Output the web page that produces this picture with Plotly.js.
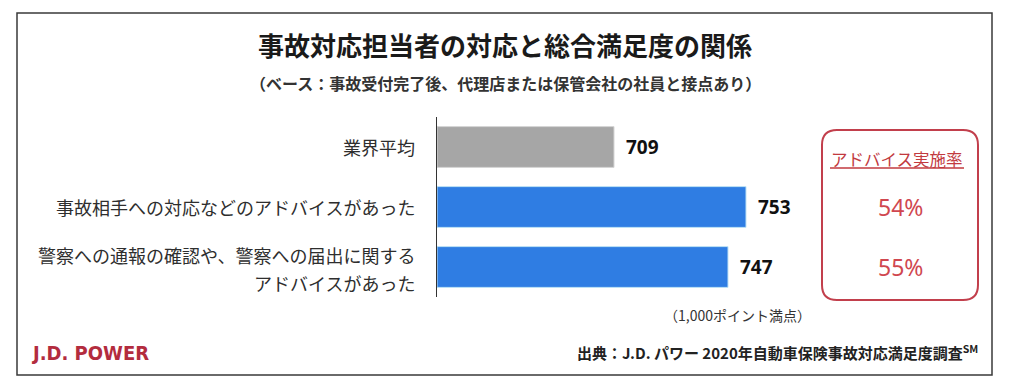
<!DOCTYPE html>
<html>
<head>
<meta charset="utf-8">
<script src="https://cdn.plot.ly/plotly-3.0.1.min.js"></script>
<style>html,body{margin:0;padding:0;background:#fff;}#chart{width:1024px;height:387px;}</style>
</head>
<body>
<div id="chart"></div>
<script>
// ---- data ----
const categories = ['業界平均', '事故相手への対応などのアドバイスがあった', '警察への通報の確認や、警察への届出に関する<br>アドバイスがあった'];
const scores = [709, 753, 747];
const adviceRates = [null, 54, 55];
const barColors = ['#a6a6a6', '#2f7de3', '#2f7de3'];
const titleText = '事故対応担当者の対応と総合満足度の関係';
const subtitleText = '（ベース：事故受付完了後、代理店または保管会社の社員と接点あり）';
const rateHeader = 'アドバイス実施率';
const scaleNote = '（1,000ポイント満点）';
const sourceText = '出典：J.D. パワー 2020年自動車保険事故対応満足度調査<sup>SM</sup>';
const brandText = 'J.D. POWER';

// ---- layout helpers (pixel -> paper) ----
const L = 437, T = 117, PW = 360, PH = 180;
const fx = x => (x - L) / PW;
const fy = y => (T + PH - y) / PH;
const CJK = '"Noto Sans CJK JP", "Noto Sans", sans-serif';

const annotations = [];
// category labels (multi-line split)
categories.forEach((c, i) => {
  const lines = c.split('<br>');
  const n = lines.length;
  lines.forEach((ln, k) => {
    annotations.push({
      x: 0, xref: 'paper', xanchor: 'right', xshift: -20,
      y: c, yref: 'y', yanchor: 'middle', yshift: ((n - 1) / 2 - k) * 28 - (n > 1 ? 2 : 0),
      text: ln, showarrow: false,
      font: {family: CJK, size: 18, color: '#2e2e2e'}
    });
  });
});
// value labels
categories.forEach((c, i) => {
  annotations.push({
    x: scores[i], xref: 'x', xanchor: 'left', xshift: 10,
    y: c, yref: 'y', yanchor: 'middle',
    text: '<b>' + scores[i] + '</b>', showarrow: false,
    font: {family: '"Noto Sans", sans-serif', size: 19, color: '#111'}
  });
});
// advice rates
categories.forEach((c, i) => {
  if (adviceRates[i] == null) return;
  annotations.push({
    x: fx(900), xref: 'paper', xanchor: 'center',
    y: c, yref: 'y', yanchor: 'middle',
    text: adviceRates[i] + '%', showarrow: false,
    font: {family: '"Noto Sans", sans-serif', size: 23, color: '#d0474f'}
  });
});
annotations.push(
  {x: fx(897), xref: 'paper', xanchor: 'center', y: fy(159), yref: 'paper', yanchor: 'middle',
   text: rateHeader, showarrow: false, font: {family: CJK, size: 16.5, color: '#c23a3f'}},
  {x: fx(505), xref: 'paper', y: fy(83), yref: 'paper', yanchor: 'middle', xanchor: 'center',
   text: '<b>' + subtitleText + '</b>', showarrow: false, font: {family: CJK, size: 16, color: '#333'}},
  {x: fx(737), xref: 'paper', xanchor: 'center', y: fy(315), yref: 'paper', yanchor: 'middle',
   text: scaleNote, showarrow: false, font: {family: CJK, size: 14, color: '#333'}},
  {x: fx(980), xref: 'paper', xanchor: 'right', y: fy(352), yref: 'paper', yanchor: 'middle',
   text: '<b>' + sourceText + '</b>', showarrow: false, font: {family: CJK, size: 15, color: '#222'}},
  {x: fx(30), xref: 'paper', xanchor: 'left', y: fy(353), yref: 'paper', yanchor: 'middle',
   text: '<b>' + brandText + '</b>', showarrow: false,
   font: {family: '"DejaVu Sans Condensed", "Liberation Sans Narrow", "Liberation Sans", sans-serif', size: 20, color: '#b32c3e'}}
);

// rounded box path in paper coords
function roundRect(x0, y0, x1, y1, r) {
  const X = v => fx(v).toFixed(5), Y = v => fy(v).toFixed(5);
  return 'M' + X(x0 + r) + ',' + Y(y0) + ' L' + X(x1 - r) + ',' + Y(y0) +
    ' Q' + X(x1) + ',' + Y(y0) + ' ' + X(x1) + ',' + Y(y0 + r) +
    ' L' + X(x1) + ',' + Y(y1 - r) +
    ' Q' + X(x1) + ',' + Y(y1) + ' ' + X(x1 - r) + ',' + Y(y1) +
    ' L' + X(x0 + r) + ',' + Y(y1) +
    ' Q' + X(x0) + ',' + Y(y1) + ' ' + X(x0) + ',' + Y(y1 - r) +
    ' L' + X(x0) + ',' + Y(y0 + r) +
    ' Q' + X(x0) + ',' + Y(y0) + ' ' + X(x0 + r) + ',' + Y(y0) + ' Z';
}

const shapes = [
  {type: 'rect', xref: 'paper', yref: 'paper', x0: fx(17), x1: fx(992), y0: fy(375), y1: fy(13),
   line: {color: '#3a3a3a', width: 1.5}, fillcolor: 'rgba(0,0,0,0)'},
  {type: 'path', xref: 'paper', yref: 'paper', path: roundRect(822, 130, 978, 300, 15),
   line: {color: '#c23f4c', width: 2}, fillcolor: 'rgba(0,0,0,0)'},
  {type: 'line', xref: 'paper', yref: 'paper', x0: fx(830), x1: fx(964), y0: fy(168), y1: fy(168),
   line: {color: '#c23a3f', width: 1.3}}
];

const BASE = 650;
const trace = {
  type: 'bar', orientation: 'h',
  x: scores.map(v => v - BASE), y: categories, base: BASE,
  marker: {color: barColors, line: {color: ['#d6d6d6', '#bfe3f5', '#bfe3f5'], width: 1}},
  width: 0.68,
  hoverinfo: 'skip'
};

const layout = {
  width: 1024, height: 387,
  margin: {l: L, r: 1024 - L - PW, t: T, b: 387 - T - PH, pad: 0},
  paper_bgcolor: '#fff', plot_bgcolor: '#fff',
  showlegend: false,
  title: {text: '<b>' + titleText + '</b>', x: 505 / 1024, xref: 'container', xanchor: 'center',
          y: 1 - 47 / 387, yref: 'container', yanchor: 'middle',
          font: {family: CJK, size: 26, color: '#1a1a1a'}},
  xaxis: {range: [650, 770], visible: false, fixedrange: true},
  yaxis: {autorange: false, range: [2.5, -0.5], type: 'category', showticklabels: false,
          showline: true, linecolor: '#333', linewidth: 1, ticks: '', showgrid: false, zeroline: false},
  annotations: annotations,
  shapes: shapes
};

Plotly.newPlot('chart', [trace], layout, {displayModeBar: false, staticPlot: true});
</script>
</body>
</html>
